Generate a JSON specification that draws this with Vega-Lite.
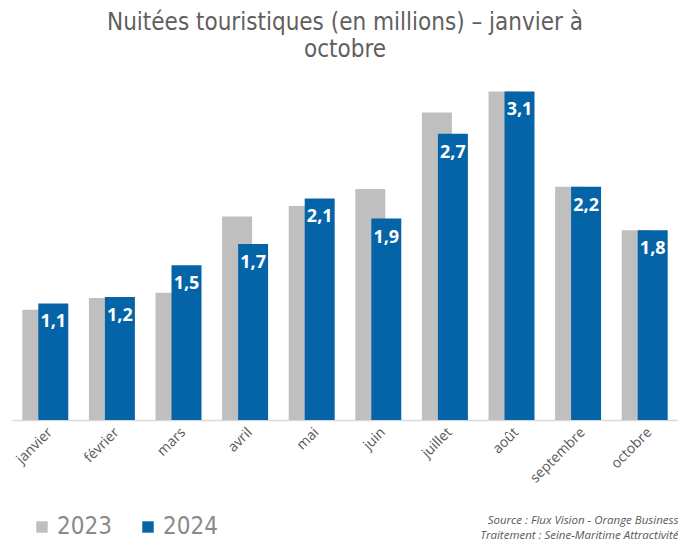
{
  "$schema": "https://vega.github.io/schema/vega-lite/v6.json",
  "autosize": "none",
  "width": 666,
  "height": 371,
  "padding": {"left": 12, "top": 49, "right": 0, "bottom": 122},
  "background": "white",
  "config": {
    "view": {"stroke": null},
    "locale": {"number": {"decimal": ",", "thousands": " ", "grouping": [3], "currency": ["", " €"]}}
  },
  "title": {
    "text": ["Nuitées touristiques (en millions) – janvier à", "octobre"],
    "anchor": "middle",
    "font": "DejaVu Sans Condensed",
    "fontSize": 24,
    "fontWeight": "normal",
    "color": "#5f5f5f",
    "lineHeight": 27,
    "offset": -13
  },
  "data": {
    "values": [
      {"mois": "janvier", "annee": "2023", "valeur": 1.04},
      {"mois": "février", "annee": "2023", "valeur": 1.15},
      {"mois": "mars", "annee": "2023", "valeur": 1.2},
      {"mois": "avril", "annee": "2023", "valeur": 1.92},
      {"mois": "mai", "annee": "2023", "valeur": 2.02},
      {"mois": "juin", "annee": "2023", "valeur": 2.18},
      {"mois": "juillet", "annee": "2023", "valeur": 2.9},
      {"mois": "août", "annee": "2023", "valeur": 3.1},
      {"mois": "septembre", "annee": "2023", "valeur": 2.2},
      {"mois": "octobre", "annee": "2023", "valeur": 1.79},
      {"mois": "janvier", "annee": "2024", "valeur": 1.1},
      {"mois": "février", "annee": "2024", "valeur": 1.16},
      {"mois": "mars", "annee": "2024", "valeur": 1.46},
      {"mois": "avril", "annee": "2024", "valeur": 1.66},
      {"mois": "mai", "annee": "2024", "valeur": 2.09},
      {"mois": "juin", "annee": "2024", "valeur": 1.9},
      {"mois": "juillet", "annee": "2024", "valeur": 2.7},
      {"mois": "août", "annee": "2024", "valeur": 3.1},
      {"mois": "septembre", "annee": "2024", "valeur": 2.2},
      {"mois": "octobre", "annee": "2024", "valeur": 1.79}
    ]
  },
  "encoding": {
    "x": {
      "field": "mois",
      "type": "nominal",
      "sort": ["janvier", "février", "mars", "avril", "mai", "juin", "juillet", "août", "septembre", "octobre"],
      "scale": {"paddingInner": 0, "paddingOuter": 0},
      "axis": {
        "title": ["Source : Flux Vision - Orange Business", "Traitement : Seine-Maritime Attractivité"],
        "titleAnchor": "end",
        "titleAlign": "right",
        "titleFont": "Open Sans",
        "titleFontSize": 11.5,
        "titleFontStyle": "italic",
        "titleFontWeight": "normal",
        "titleColor": "#595959",
        "titlePadding": 29,
        "titleLineHeight": 15,
        "labelAngle": -45,
        "labelFont": "Open Sans",
        "labelFontSize": 14,
        "labelColor": "#595959",
        "labelPadding": 5,
        "ticks": false,
        "domainColor": "#d9d9d9",
        "domainWidth": 1.5
      }
    },
    "y": {
      "field": "valeur",
      "type": "quantitative",
      "scale": {"domain": [0, 3.5], "nice": false},
      "axis": null
    }
  },
  "layer": [
    {
      "transform": [{"filter": "datum.annee == '2023'"}],
      "mark": {"type": "bar", "width": {"band": 0.45}, "xOffset": -8},
      "encoding": {
        "color": {
          "field": "annee",
          "type": "nominal",
          "scale": {"domain": ["2023", "2024"], "range": ["#bfbfbf", "#0563a7"]},
          "legend": {
            "title": null,
            "orient": "none",
            "direction": "horizontal",
            "legendX": 18,
            "legendY": 466,
            "symbolType": "square",
            "symbolSize": 130,
            "symbolStrokeWidth": 0,
            "labelFont": "DejaVu Sans Condensed",
            "labelFontSize": 24,
            "labelColor": "#8a8a8a",
            "labelOffset": 3,
            "columnPadding": 24
          }
        }
      }
    },
    {
      "transform": [{"filter": "datum.annee == '2024'"}],
      "mark": {"type": "bar", "width": {"band": 0.45}, "xOffset": 8},
      "encoding": {
        "color": {"field": "annee", "type": "nominal"}
      }
    },
    {
      "transform": [{"filter": "datum.annee == '2024'"}],
      "mark": {"type": "text", "xOffset": 8, "baseline": "top", "dy": 10, "color": "white", "font": "Open Sans", "fontSize": 18, "fontWeight": "bold"},
      "encoding": {
        "text": {"field": "valeur", "type": "quantitative", "format": ".1f"}
      }
    }
  ]
}
